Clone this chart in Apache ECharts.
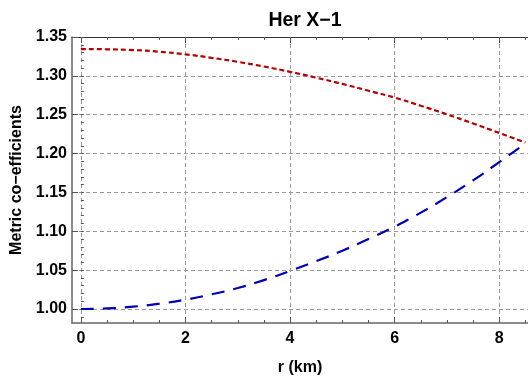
<!DOCTYPE html>
<html>
<head>
<meta charset="utf-8">
<script src="https://cdn.jsdelivr.net/npm/echarts@6/dist/echarts.min.js"></script>
<style>
  html, body { margin: 0; padding: 0; background: #fff; }
  #chart { width: 528px; height: 376px; }
</style>
</head>
<body>
<div id="chart"></div>
<script>
// radius in km
const rValues = [0, 0.5, 1, 1.5, 2, 2.5, 3, 3.5, 4, 4.5, 5, 5.5, 6, 6.5, 7, 7.5, 8, 8.5];
// red dotted curve
const redValues = [1.3345, 1.3342, 1.3332, 1.3311, 1.3277, 1.3232, 1.3180, 1.3120, 1.3052,
                   1.2977, 1.2896, 1.2809, 1.2720, 1.2615, 1.2505, 1.2387, 1.2266, 1.2142];
// blue dashed curve
const blueValues = [1.0000, 1.0007, 1.0030, 1.0068, 1.0120, 1.0189, 1.0270, 1.0372, 1.0490,
                    1.0615, 1.0750, 1.0900, 1.1060, 1.1240, 1.1440, 1.1655, 1.1890, 1.2130];

const xTicks = [0, 2, 4, 6, 8];
const yTicks = [1.00, 1.05, 1.10, 1.15, 1.20, 1.25, 1.30, 1.35];

const xMinor = [];
for (let v = 0; v <= 8.5; v += 0.5) xMinor.push(v);
const yMinor = [];
for (let i = 99; i <= 135; i++) yMinor.push(i / 100);

const FONT = '"Liberation Sans", Arial, sans-serif';
const X_MIN = -0.17, X_MAX = 8.55, Y_MIN = 0.982, Y_MAX = 1.35;

function xAxisOf(opts) {
    return Object.assign({
        type: 'value', min: X_MIN, max: X_MAX,
        axisLine: { show: false },
        axisTick: { show: false },
        axisLabel: { show: false },
        splitLine: { show: false }
    }, opts);
}
function yAxisOf(opts) {
    return Object.assign({
        type: 'value', min: Y_MIN, max: Y_MAX,
        axisLine: { show: false },
        axisTick: { show: false },
        axisLabel: { show: false },
        splitLine: { show: false }
    }, opts);
}

const chart = echarts.init(document.getElementById('chart'), null, { renderer: 'canvas' });

const option = {
    animation: false,
    title: {
        text: 'Her X\u22121',
        left: 300, top: 6, textAlign: 'center',
        textStyle: { fontFamily: FONT, fontWeight: 'bold', fontSize: 19.5, color: '#000' }
    },
    grid: { left: 72, right: 0, top: 37, bottom: 53, containLabel: false, outerBoundsMode: 'none' },
    xAxis: [
        xAxisOf({
            position: 'bottom',
            name: 'r (km)', nameLocation: 'middle', nameGap: 37,
            nameTextStyle: { fontFamily: FONT, fontWeight: 'bold', fontSize: 16, color: '#000' },
            axisLine: { show: true, onZero: false, lineStyle: { color: '#666', width: 1.5 } },
            axisTick: { show: true, inside: true, length: 6, customValues: xTicks, lineStyle: { color: '#555' } },
            axisLabel: { show: true, customValues: xTicks, margin: 8,
                fontFamily: FONT, fontWeight: 'bold', fontSize: 16, color: '#000' },
            splitLine: { show: true, lineStyle: { color: '#999', type: [4, 3], width: 1 } }
        }),
        xAxisOf({
            position: 'bottom',
            axisTick: { show: true, inside: true, length: 3, customValues: xMinor, lineStyle: { color: '#555' } }
        }),
        xAxisOf({
            position: 'top',
            axisLine: { show: true, onZero: false, lineStyle: { color: '#333', width: 1 } },
            axisTick: { show: true, inside: true, length: 6, customValues: xTicks, lineStyle: { color: '#555' } }
        }),
        xAxisOf({
            position: 'top',
            axisTick: { show: true, inside: true, length: 3, customValues: xMinor, lineStyle: { color: '#555' } }
        })
    ],
    yAxis: [
        yAxisOf({
            position: 'left',
            name: 'Metric co\u2212efficients', nameLocation: 'middle', nameGap: 45,
            nameTextStyle: { fontFamily: FONT, fontWeight: 'bold', fontSize: 16, color: '#000' },
            axisLine: { show: true, onZero: false, lineStyle: { color: '#666', width: 1.5 } },
            axisTick: { show: true, inside: true, length: 6, customValues: yTicks, lineStyle: { color: '#555' } },
            axisLabel: { show: true, customValues: yTicks, margin: 5,
                formatter: v => v.toFixed(2),
                fontFamily: FONT, fontWeight: 'bold', fontSize: 16, color: '#000' },
            splitLine: { show: true, lineStyle: { color: '#999', type: [4, 3], width: 1 } }
        }),
        yAxisOf({
            position: 'left',
            axisTick: { show: true, inside: true, length: 3, customValues: yMinor, lineStyle: { color: '#555' } }
        })
    ],
    series: [
        {
            name: 'red', type: 'line', xAxisIndex: 0, yAxisIndex: 0,
            data: rValues.map((r, i) => [r, redValues[i]]),
            smooth: true, showSymbol: false, symbol: 'none',
            lineStyle: { color: '#b40000', width: 2.2, type: [5, 3] }
        },
        {
            name: 'blue', type: 'line', xAxisIndex: 0, yAxisIndex: 0,
            data: rValues.map((r, i) => [r, blueValues[i]]),
            smooth: true, showSymbol: false, symbol: 'none',
            lineStyle: { color: '#0000b4', width: 2.2, type: [13, 9] }
        }
    ]
};

chart.setOption(option);
</script>
</body>
</html>
